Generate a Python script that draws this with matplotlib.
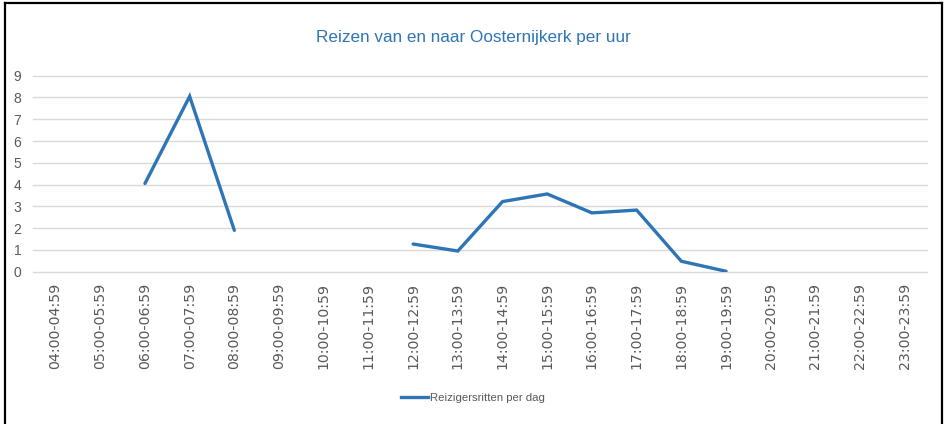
import numpy as np
import matplotlib
matplotlib.use("Agg")
import matplotlib.pyplot as plt
from matplotlib.lines import Line2D

categories = ["04:00-04:59", "05:00-05:59", "06:00-06:59", "07:00-07:59",
              "08:00-08:59", "09:00-09:59", "10:00-10:59", "11:00-11:59",
              "12:00-12:59", "13:00-13:59", "14:00-14:59", "15:00-15:59",
              "16:00-16:59", "17:00-17:59", "18:00-18:59", "19:00-19:59",
              "20:00-20:59", "21:00-21:59", "22:00-22:59", "23:00-23:59"]
values = [np.nan, np.nan, 4.05, 8.05, 1.9, np.nan, np.nan, np.nan,
          1.27, 0.95, 3.22, 3.57, 2.7, 2.83, 0.48, 0.02,
          np.nan, np.nan, np.nan, np.nan]
y_ticks = list(range(0, 10))
title = "Reizen van en naar Oosternijkerk per uur"
series_name = "Reizigersritten per dag"

narrow = ["Liberation Sans", "DejaVu Sans"]
blue = "#2E75B6"
gray = "#595959"

fig = plt.figure(figsize=(9.46, 4.24), dpi=100)
ax = fig.add_axes([0.0351, 0.3592, 0.945, 0.4623])

x = np.arange(len(categories))
ax.plot(x, values, color=blue, lw=2.4, solid_capstyle="round",
        solid_joinstyle="miter", label=series_name)

ax.set_xlim(-0.5, len(categories) - 0.5)
ax.set_ylim(0, 9)
ax.set_yticks(y_ticks)
ax.set_yticklabels([str(v) for v in y_ticks], family=narrow, fontsize=10, color=gray)
ax.set_xticks(x)
ax.set_xticklabels(categories, rotation=90, family="DejaVu Sans", fontsize=10.2, color=gray)
ax.tick_params(axis="both", length=0)
ax.tick_params(axis="y", pad=8.5)
ax.tick_params(axis="x", pad=8)
for s in ax.spines.values():
    s.set_visible(False)
ax.grid(axis="y", color="#D9D9D9", lw=1.0)
for gl in ax.get_ygridlines():
    gl.set_clip_on(False)
ax.set_axisbelow(True)

fig.text(0.5, 0.912, title, ha="center", va="center", family=narrow,
         fontsize=12.3, color=blue)

leg = fig.legend(handles=[Line2D([0], [0], color=blue, lw=2.4)], labels=[series_name],
                 loc="center", bbox_to_anchor=(0.5, 0.061), frameon=False,
                 prop={"family": narrow, "size": 8.2}, handlelength=2.3,
                 handletextpad=0.2, labelcolor=gray)

# outer frame (left, top, right)
W, H = 946, 424
for (x0, y0, x1, y1) in [(5, 0, 5, 421), (5, 421, 942, 421), (942, 421, 942, 0)]:
    fig.add_artist(Line2D([x0 / W, x1 / W], [y0 / H, y1 / H], color="black",
                          lw=1.6, transform=fig.transFigure))

fig.savefig("out.png", dpi=100)
